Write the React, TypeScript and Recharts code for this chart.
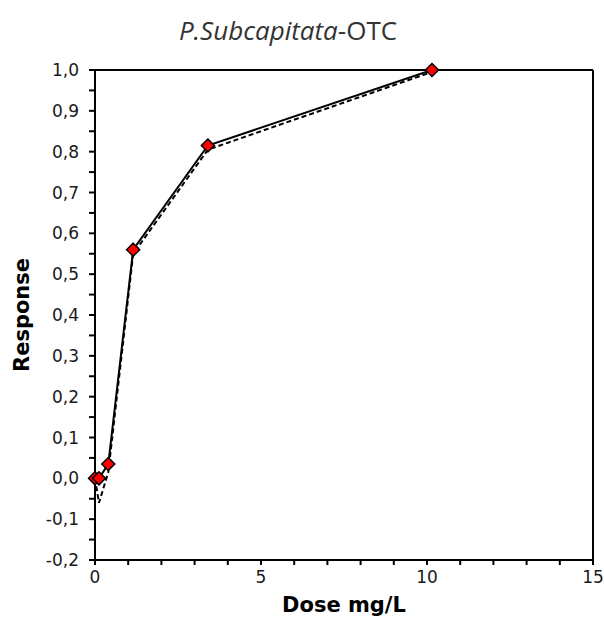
import { LineChart, Line, XAxis, YAxis, ReferenceLine } from "recharts";

const doses = [0, 0.12, 0.4, 1.15, 3.4, 10.15];
const responses = [0, 0, 0.035, 0.56, 0.815, 1.0];
const fitDoses = [0, 0.12, 0.4, 1.15, 3.4, 10.15];
const fitResponses = [0, -0.06, 0.015, 0.55, 0.805, 0.995];
const xTicks = [0, 1, 2, 3, 4, 5, 6, 7, 8, 9, 10, 11, 12, 13, 14, 15];
const yTicks = [-0.2, -0.15, -0.1, -0.05, 0, 0.05, 0.1, 0.15, 0.2, 0.25, 0.3, 0.35, 0.4, 0.45, 0.5, 0.55, 0.6, 0.65, 0.7, 0.75, 0.8, 0.85, 0.9, 0.95, 1.0];

const observed = doses.map((x, i) => ({ x, y: responses[i] }));
const fitted = fitDoses.map((x, i) => ({ x, y: fitResponses[i] }));

const tickFont = { fill: "#1a1a1a", fontSize: 17, fontFamily: "DejaVu Sans" };

function Diamond(props: any) {
  const { cx, cy } = props;
  if (cx == null || cy == null) return null;
  const r = 6.5;
  return (
    <polygon
      points={`${cx},${cy - r} ${cx + r},${cy} ${cx},${cy + r} ${cx - r},${cy}`}
      fill="#ff0000"
      stroke="#000"
      strokeWidth={1.5}
    />
  );
}

export default function App() {
  return (
    <div style={{ position: "absolute", left: 0, top: 0, width: 604, height: 628, background: "#fff" }}>
      <div
        style={{
          position: "absolute",
          top: 12,
          left: 0,
          width: 576,
          textAlign: "center",
          fontFamily: "Open Sans",
          fontSize: 26,
          color: "#333",
        }}
      >
        <i>P.Subcapitata</i>-OTC
      </div>
      <LineChart width={604} height={628} margin={{ top: 70, right: 11, bottom: 8, left: 0 }}>
        <XAxis
          type="number"
          dataKey="x"
          domain={[0, 15]}
          ticks={xTicks}
          interval={0}
          tickFormatter={(v: number) => (v % 5 === 0 ? String(v) : "")}
          tick={tickFont}
          tickSize={5}
          tickMargin={6}
          axisLine={{ stroke: "#000", strokeWidth: 2 }}
          tickLine={{ stroke: "#000", strokeWidth: 2 }}
          height={60}
          label={{
            value: "Dose mg/L",
            position: "insideBottom",
            offset: 8,
            style: { fontFamily: "DejaVu Sans", fontWeight: "bold", fontSize: 21, fill: "#000" },
          }}
        />
        <YAxis
          type="number"
          domain={[-0.2, 1.0]}
          ticks={yTicks}
          interval={0}
          tickFormatter={(v: number) =>
            Math.abs(Math.round(v * 10) - v * 10) < 1e-6 ? v.toFixed(1).replace(".", ",") : ""
          }
          tick={tickFont}
          tickSize={6}
          tickMargin={10}
          axisLine={{ stroke: "#000", strokeWidth: 2 }}
          tickLine={{ stroke: "#000", strokeWidth: 2 }}
          width={95}
          label={{
            value: "Response",
            angle: -90,
            position: "insideLeft",
            offset: 22,
            style: { fontFamily: "DejaVu Sans", fontWeight: "bold", fontSize: 21, fill: "#000", textAnchor: "middle" },
          }}
        />
        <ReferenceLine y={1.0} stroke="#000" strokeWidth={2} />
        <ReferenceLine x={15} stroke="#000" strokeWidth={2} />
        <Line
          data={fitted}
          dataKey="y"
          type="linear"
          stroke="#000"
          strokeWidth={2}
          strokeDasharray="5 3"
          dot={false}
          activeDot={false}
          isAnimationActive={false}
        />
        <Line
          data={observed}
          dataKey="y"
          type="linear"
          stroke="#000"
          strokeWidth={2}
          dot={<Diamond />}
          activeDot={false}
          isAnimationActive={false}
        />
      </LineChart>
    </div>
  );
}
